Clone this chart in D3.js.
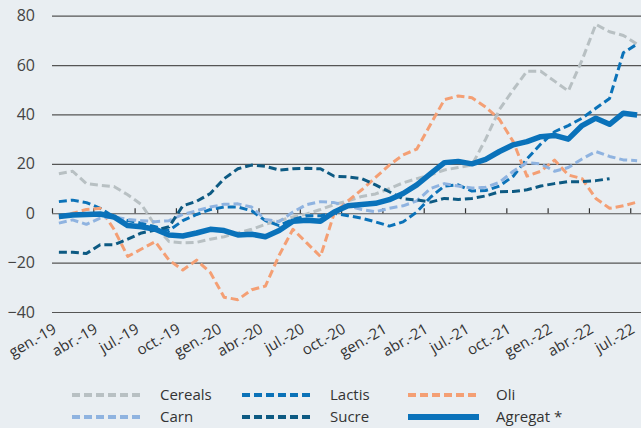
<!DOCTYPE html>
<html>
<head>
<meta charset="utf-8">
<script src="https://cdn.jsdelivr.net/npm/d3@7"></script>
<style>
  html, body { margin: 0; padding: 0; background: #e9eef2; }
  svg { display: block; }
  text { font-family: "Liberation Sans Narrow", "Open Sans", sans-serif; fill: #333; }
</style>
</head>
<body>
<div id="chart"></div>
<script>
// monthly, gen.-19 .. jul.-22
var mesos = ["gen.", "feb.", "març", "abr.", "maig", "juny", "jul.", "ag.", "set.", "oct.", "nov.", "des."];
var anys = ["19", "20", "21", "22"];
var tickLabels = ["gen.-19", "abr.-19", "jul.-19", "oct.-19", "gen.-20", "abr.-20", "jul.-20", "oct.-20",
                  "gen.-21", "abr.-21", "jul.-21", "oct.-21", "gen.-22", "abr.-22", "jul.-22"];
var yTicks = [-40, -20, 0, 20, 40, 60, 80];

var cereals = [16, 17, 12, 11.3, 10.8, 7.5, 3.5, -5, -11.5, -12, -11.8, -10.5, -9.5, -8, -6.5, -4.5, -3, -1.5,
               -0.3, 1.5, 3.5, 5, 6.8, 7.8, 10, 12.3, 14, 15.5, 17.5, 18.5, 19.5, 30, 42, 50, 57.5, 57.5, 53.5,
               49.5, 62, 76.5, 73.5, 72, 68.5];
var carn = [-4, -2.7, -4.5, -2, -1.5, -2.5, -3, -3.4, -3, -0.5, 1, 2.5, 3.6, 3.8, 2.5, -2.5, -3.4, 0.5, 3.5,
            4.7, 4.3, 3, 1.5, 0.6, 2, 3, 5, 10, 12, 11, 10.2, 10.5, 12.5, 17, 20.5, 20, 17, 18.5, 22, 25, 23,
            21.6, 21.3];
var lactis = [4.7, 5.3, 4.3, 2, -1.5, -3, -4, -5.5, -7, -3, -0.5, 1.5, 2.5, 2.5, 1, -3, -5, -2.5, -1, -1, 0,
              -1, -2, -3.5, -5.2, -3.5, 0.5, 6.5, 11, 11.5, 9, 9.2, 11, 15, 22, 28, 33, 35.5, 38.5, 42.5, 46.5,
              65, 68.5];
var sucre = [-15.8, -15.8, -16.3, -12.8, -12.8, -10.5, -8, -6.8, -5.5, 3, 4.8, 8, 14, 18, 19.5, 19, 17.5, 18,
             18.2, 18, 15, 14.7, 14, 11.5, 8.7, 5.8, 5.4, 4.5, 6, 5.6, 6, 7, 8.7, 8.8, 9.5, 11, 12, 12.8, 12.8,
             13.2, 14, null, null];
var oli = [-2, 0, 1.5, 2, -6.5, -17.5, -14.5, -11.5, -19, -23, -19, -24, -34, -35, -31, -29.5, -17, -6.5, -12,
           -17.5, 0, 5, 9.5, 14.5, 19.5, 23.6, 26, 36, 46, 47.5, 46.8, 43, 38, 29, 15, 17, 21.5, 15.5, 14, 6,
           2, 3, 4.5];
var agregat = [-1.3, -0.7, -0.5, -0.3, -1.5, -5, -5.5, -6.5, -8.8, -9.2, -8, -6.5, -7, -8.8, -8.5, -9.5, -7,
               -3.2, -2.8, -3.2, 0.5, 3, 3.5, 4, 5.5, 8, 11.5, 16, 20.5, 21, 20, 21.8, 25, 27.7, 29, 31, 31.5,
               30, 35.5, 38.5, 36, 40.5, 39.8];

var mesosLlista = [];
anys.forEach(function(a) {
  mesos.forEach(function(m) { mesosLlista.push(m + "-" + a); });
});
mesosLlista = mesosLlista.slice(0, cereals.length);

var series = [
  {name: "Cereals", values: cereals, color: "#b8c0c3", dash: "8,4", width: 3},
  {name: "Lactis", values: lactis, color: "#0b72b8", dash: "8,4", width: 3},
  {name: "Oli", values: oli, color: "#f49f74", dash: "8,4", width: 3},
  {name: "Carn", values: carn, color: "#8fb3e0", dash: "8,4", width: 3},
  {name: "Sucre", values: sucre, color: "#0d5a83", dash: "8,4", width: 3},
  {name: "Agregat *", values: agregat, color: "#0a72ba", dash: null, width: 5.5}
];

var W = 641, H = 428;
var plotLeft = 52, plotRight = 644, plotTop = 15.7, plotBottom = 312;

var svg = d3.select("#chart").append("svg")
  .attr("width", W)
  .attr("height", H);

var x = d3.scaleLinear().domain([0, mesosLlista.length]).range([plotLeft, plotRight]);
var y = d3.scaleLinear().domain([-40, 80]).range([plotBottom, plotTop]);

// grid + y labels
var yAxis = svg.append("g")
  .attr("transform", "translate(" + plotLeft + ",0)")
  .call(d3.axisLeft(y).tickValues(yTicks).tickSize(-(plotRight - plotLeft)).tickPadding(17));
yAxis.select(".domain").remove();
yAxis.selectAll(".tick line").attr("stroke", "#555").attr("stroke-width", 1.2);
yAxis.selectAll(".tick text").attr("font-size", 16).style("fill", "#444");

// ticks on the zero line
var tickIdx = tickLabels.map(function(d, i) { return i * 3; });
var zeroAxis = svg.append("g")
  .attr("transform", "translate(0," + y(0) + ")")
  .call(d3.axisTop(x).tickValues(tickIdx).tickFormat("").tickSizeInner(5).tickSizeOuter(0));
zeroAxis.select(".domain").remove();
zeroAxis.selectAll(".tick line").attr("stroke", "#333").attr("stroke-width", 1.2);

// rotated labels under the plot
var xAxis = svg.append("g")
  .attr("transform", "translate(0," + plotBottom + ")")
  .call(d3.axisBottom(x).tickValues(tickIdx).tickSize(0)
    .tickFormat(function(d, i) { return tickLabels[i]; }));
xAxis.select(".domain").remove();
xAxis.selectAll(".tick text")
  .attr("font-size", 15)
  .attr("text-anchor", "end")
  .attr("dy", null)
  .attr("y", 0)
  .attr("transform", "translate(5,20) rotate(-30)");

var line = d3.line()
  .defined(function(d) { return d != null; })
  .x(function(d, i) { return x(i + 0.5); })
  .y(function(d) { return y(d); });

svg.append("g").selectAll("path")
  .data(series)
  .enter()
  .append("path")
  .attr("d", function(d) { return line(d.values); })
  .attr("fill", "none")
  .attr("stroke", function(d) { return d.color; })
  .attr("stroke-width", function(d) { return d.width; })
  .attr("stroke-dasharray", function(d) { return d.dash; })
  .attr("stroke-linejoin", "round");

// legend, 3 columns x 2 rows
var legendOrder = ["Cereals", "Lactis", "Oli", "Carn", "Sucre", "Agregat *"];
var colX = [72, 242, 408];
var rowY = [395, 417];
var legend = svg.append("g").selectAll("g")
  .data(legendOrder.map(function(n) { return series.find(function(s) { return s.name == n; }); }))
  .enter()
  .append("g")
  .attr("transform", function(d, i) { return "translate(" + colX[i % 3] + "," + rowY[Math.floor(i / 3)] + ")"; });
legend.append("line")
  .attr("x1", 0).attr("x2", 71)
  .attr("stroke", function(d) { return d.color; })
  .attr("stroke-width", function(d) { return d.dash ? 4 : 6; })
  .attr("stroke-dasharray", function(d) { return d.dash; });
legend.append("text")
  .attr("x", 88)
  .attr("dy", "0.35em")
  .attr("font-size", 15)
  .text(function(d) { return d.name; });
</script>
</body>
</html>
